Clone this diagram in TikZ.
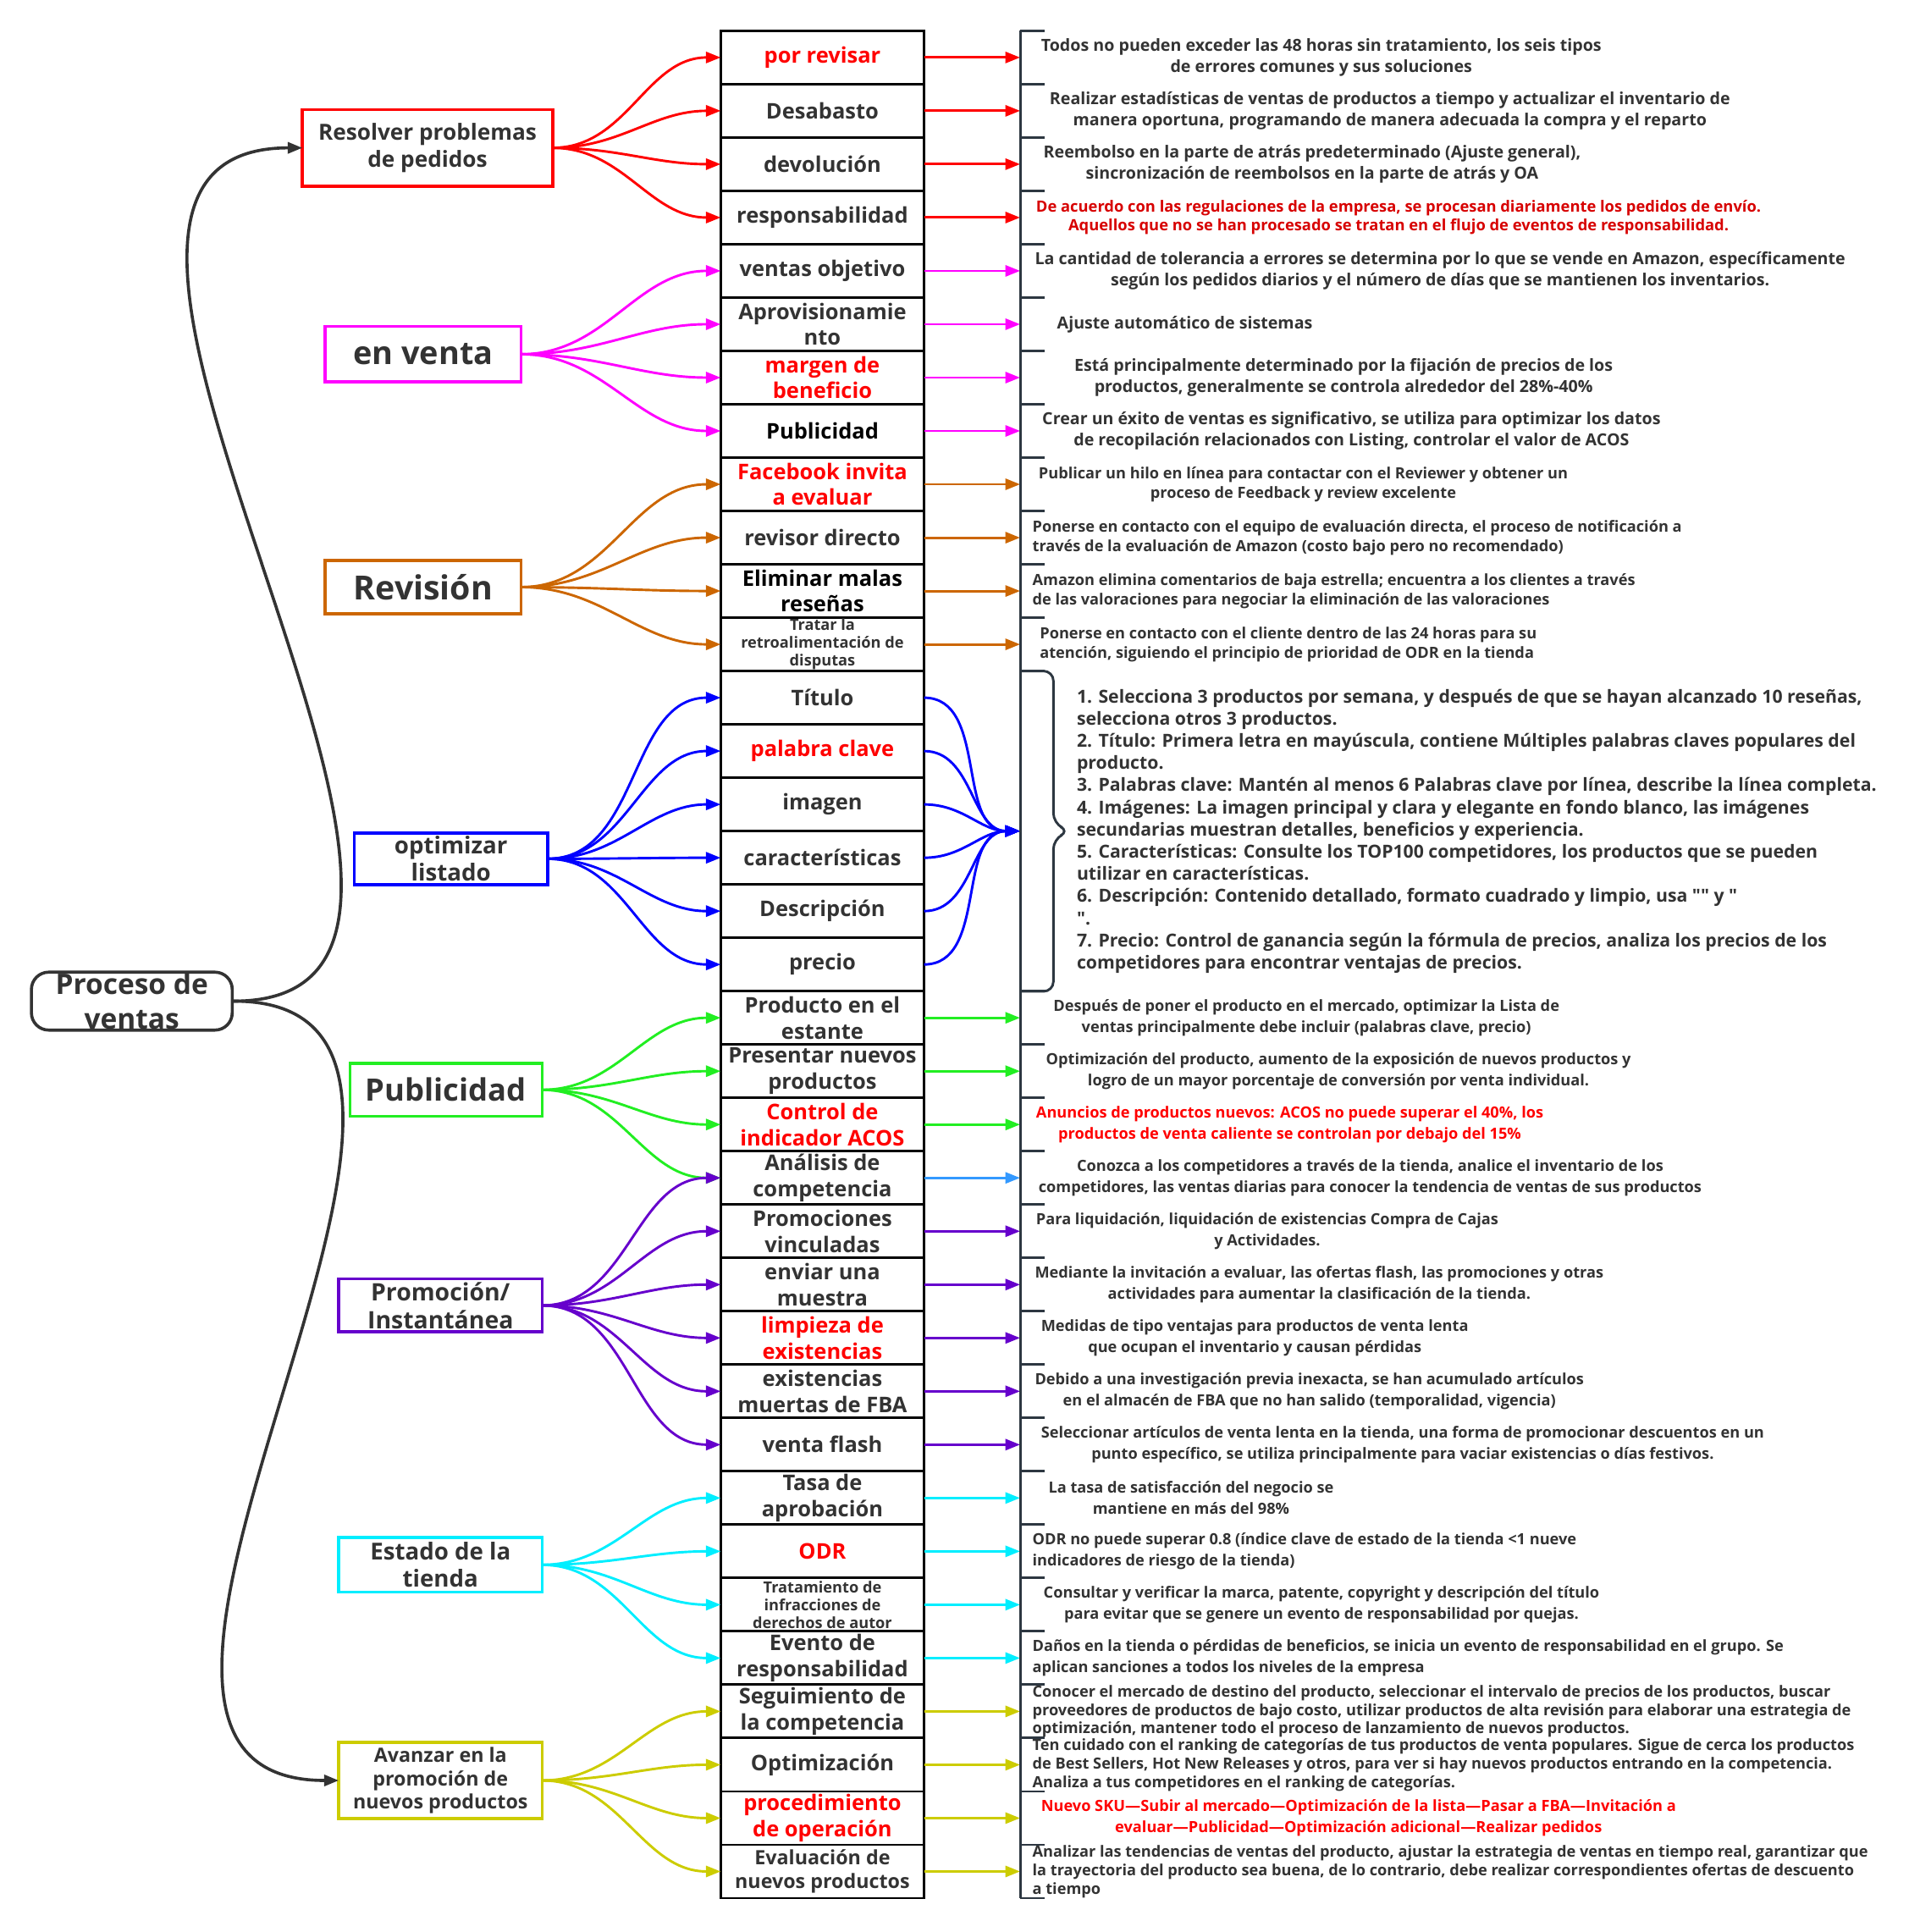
\documentclass[tikz,border=0pt]{standalone}
\usepackage{fontspec}
\setmainfont{Open Sans}[Ligatures=TeXOff]
\usetikzlibrary{positioning,arrows.meta}

\definecolor{txt}{RGB}{51,51,51}
\definecolor{brk}{RGB}{45,55,65}
\definecolor{cred}{RGB}{255,0,0}
\definecolor{cdred}{RGB}{215,0,0}
\definecolor{cmag}{RGB}{255,0,255}
\definecolor{corg}{RGB}{204,102,0}
\definecolor{cblu}{RGB}{0,0,255}
\definecolor{cgrn}{RGB}{34,238,34}
\definecolor{cpur}{RGB}{102,0,204}
\definecolor{ccya}{RGB}{0,238,255}
\definecolor{cyel}{RGB}{204,204,0}
\definecolor{clbl}{RGB}{51,153,255}

\tikzset{
    box/.style={draw=black, line width=2pt, minimum width=165pt, minimum height=43.3pt, inner sep=0pt, outer sep=0pt, align=center, text=txt, font=\bfseries\fontsize{17.5}{21}\selectfont},
    smalltxt/.style={font=\bfseries\fontsize{12.5}{14.5}\selectfont},
    hot/.style={text=cred},
    desc/.style={inner xsep=12pt, inner ysep=0pt, outer sep=0pt, align=center, text=txt, font=\bfseries\fontsize{12.5}{17}\selectfont},
    descl/.style={desc, align=left},
    big/.style={font=\bfseries\fontsize{13.5}{17}\selectfont},
    mid/.style={font=\bfseries\fontsize{12.5}{16}\selectfont},
    grp/.style={draw=#1, line width=2.5pt, inner sep=0pt, outer sep=0pt, align=center, text=txt},
    link/.style={line width=2pt, -{Triangle[length=12pt,width=9pt]}},
    fan/.style={link, draw=#1, out=0, in=180},
    brkline/.style={draw=brk, line width=2pt},
}

\begin{document}
\begin{tikzpicture}[x=1pt, y=-1pt]
    \useasboundingbox (0,0) rectangle (1558,1568);

    \node[draw=txt, line width=2.5pt, rounded corners=14pt, minimum width=163pt, minimum height=47pt] (root) at (107,812.5) {};
    \node[text=txt, align=center, font=\bfseries\fontsize{23}{28}\selectfont] (rootlbl) at (root) {Proceso de\\ventas};

    \node[grp=cred, minimum width=203pt, minimum height=62pt, font=\bfseries\fontsize{18}{22}\selectfont] (g1) at (347,120) {Resolver problemas\\de pedidos};
    \node[grp=cmag, minimum width=159pt, minimum height=45pt, font=\bfseries\fontsize{26}{30}\selectfont] (g2) at (343.5,287.5) {en venta};
    \node[grp=corg, minimum width=159pt, minimum height=43pt, font=\bfseries\fontsize{27}{30}\selectfont] (g3) at (343.5,476.5) {Revisión};
    \node[grp=cblu, minimum width=157pt, minimum height=42pt, font=\bfseries\fontsize{19}{22}\selectfont] (g4) at (366,697) {optimizar\\listado};
    \node[grp=cgrn, minimum width=156pt, minimum height=43pt, font=\bfseries\fontsize{25}{30}\selectfont] (g5) at (362,884.5) {Publicidad};
    \node[grp=cpur, minimum width=165pt, minimum height=43pt, font=\bfseries\fontsize{19.5}{22.5}\selectfont] (g6) at (357.5,1059.5) {Promoción/\\Instantánea};
    \node[grp=ccya, minimum width=165pt, minimum height=44pt, font=\bfseries\fontsize{19}{22}\selectfont] (g7) at (357.5,1270) {Estado de la\\tienda};
    \node[grp=cyel, minimum width=165pt, minimum height=62pt, font=\bfseries\fontsize{16}{19}\selectfont] (g8) at (357.5,1445) {Avanzar en la\\promoción de\\nuevos productos};

    \node[box, hot] (b1) at (667.5,46.65) {por revisar};
    \node[box, below=0pt of b1] (b2) {Desabasto};
    \node[box, below=0pt of b2] (b3) {devolución};
    \node[box, below=0pt of b3] (b4) {responsabilidad};
    \node[box, below=0pt of b4] (b5) {ventas objetivo};
    \node[box, below=0pt of b5] (b6) {Aprovisionamie\\nto};
    \node[box, hot, below=0pt of b6] (b7) {margen de\\beneficio};
    \node[box, text=black, below=0pt of b7] (b8) {Publicidad};
    \node[box, hot, below=0pt of b8] (b9) {Facebook invita\\a evaluar};
    \node[box, below=0pt of b9] (b10) {revisor directo};
    \node[box, text=black, below=0pt of b10] (b11) {Eliminar malas\\reseñas};
    \node[box, smalltxt, below=0pt of b11] (b12) {Tratar la\\retroalimentación de\\disputas};
    \node[box, below=0pt of b12] (b13) {Título};
    \node[box, hot, below=0pt of b13] (b14) {palabra clave};
    \node[box, below=0pt of b14] (b15) {imagen};
    \node[box, below=0pt of b15] (b16) {características};
    \node[box, below=0pt of b16] (b17) {Descripción};
    \node[box, below=0pt of b17] (b18) {precio};
    \node[box, below=0pt of b18] (b19) {Producto en el\\estante};
    \node[box, below=0pt of b19] (b20) {Presentar nuevos\\productos};
    \node[box, hot, below=0pt of b20] (b21) {Control de\\indicador ACOS};
    \node[box, below=0pt of b21] (b22) {Análisis de\\competencia};
    \node[box, below=0pt of b22] (b23) {Promociones\\vinculadas};
    \node[box, below=0pt of b23] (b24) {enviar una\\muestra};
    \node[box, hot, below=0pt of b24] (b25) {limpieza de\\existencias};
    \node[box, below=0pt of b25] (b26) {existencias\\muertas de FBA};
    \node[box, below=0pt of b26] (b27) {venta flash};
    \node[box, below=0pt of b27] (b28) {Tasa de\\aprobación};
    \node[box, hot, below=0pt of b28] (b29) {ODR};
    \node[box, smalltxt, below=0pt of b29] (b30) {Tratamiento de\\infracciones de\\derechos de autor};
    \node[box, below=0pt of b30] (b31) {Evento de\\responsabilidad};
    \node[box, below=0pt of b31] (b32) {Seguimiento de\\la competencia};
    \node[box, below=0pt of b32] (b33) {Optimización};
    \node[box, hot, below=0pt of b33] (b34) {procedimiento\\de operación};
    \node[box, font=\bfseries\fontsize{16}{19}\selectfont, below=0pt of b34] (b35) {Evaluación de\\nuevos productos};

    \node[desc, big, inner xsep=17pt, right=78pt of b1] (t1) {Todos no pueden exceder las 48 horas sin tratamiento, los seis tipos\\de errores comunes y sus soluciones};
    \node[desc, big, inner xsep=24pt, right=78pt of b2] (t2) {Realizar estadísticas de ventas de productos a tiempo y actualizar el inventario de\\manera oportuna, programando de manera adecuada la compra y el reparto};
    \node[desc, big, inner xsep=19pt, right=78pt of b3] (t3) {Reembolso en la parte de atrás predeterminado (Ajuste general),\\sincronización de reembolsos en la parte de atrás y OA};
    \node[desc, text=cdred, inner xsep=13pt, font=\bfseries\fontsize{12.6}{15}\selectfont, right=78pt of b4] (t4) {De acuerdo con las regulaciones de la empresa, se procesan diariamente los pedidos de envío.\\Aquellos que no se han procesado se tratan en el flujo de eventos de responsabilidad.};
    \node[desc, big, inner xsep=12pt, right=78pt of b5] (t5) {La cantidad de tolerancia a errores se determina por lo que se vende en Amazon, específicamente\\según los pedidos diarios y el número de días que se mantienen los inventarios.};
    \node[desc, big, inner xsep=30pt, right=78pt of b6] (t6) {Ajuste automático de sistemas};
    \node[desc, big, inner xsep=44pt, right=78pt of b7] (t7) {Está principalmente determinado por la fijación de precios de los\\productos, generalmente se controla alrededor del 28\%-40\%};
    \node[desc, big, inner xsep=18pt, right=78pt of b8] (t8) {Crear un éxito de ventas es significativo, se utiliza para optimizar los datos\\de recopilación relacionados con Listing, controlar el valor de ACOS};
    \node[desc, mid, inner xsep=15pt, right=78pt of b9] (t9) {Publicar un hilo en línea para contactar con el Reviewer y obtener un\\proceso de Feedback y review excelente};
    \node[descl, mid, inner xsep=10pt, right=78pt of b10] (t10) {Ponerse en contacto con el equipo de evaluación directa, el proceso de notificación a\\través de la evaluación de Amazon (costo bajo pero no recomendado)};
    \node[descl, mid, inner xsep=10pt, right=78pt of b11] (t11) {Amazon elimina comentarios de baja estrella; encuentra a los clientes a través\\de las valoraciones para negociar la eliminación de las valoraciones};
    \node[descl, mid, inner xsep=16pt, right=78pt of b12] (t12) {Ponerse en contacto con el cliente dentro de las 24 horas para su\\atención, siguiendo el principio de prioridad de ODR en la tienda};
    \node[descl, inner xsep=46pt, font=\bfseries\fontsize{14.6}{18}\selectfont, right=78pt of b15.south east] (tb) {1. Selecciona 3 productos por semana, y después de que se hayan alcanzado 10 reseñas,\\selecciona otros 3 productos.\\2. Título: Primera letra en mayúscula, contiene Múltiples palabras claves populares del\\producto.\\3. Palabras clave: Mantén al menos 6 Palabras clave por línea, describe la línea completa.\\4. Imágenes: La imagen principal y clara y elegante en fondo blanco, las imágenes\\secundarias muestran detalles, beneficios y experiencia.\\5. Características: Consulte los TOP100 competidores, los productos que se pueden\\utilizar en características.\\6. Descripción: Contenido detallado, formato cuadrado y limpio, usa "" y "\\".\\7. Precio: Control de ganancia según la fórmula de precios, analiza los precios de los\\competidores para encontrar ventajas de precios.};
    \node[desc, inner xsep=27pt, right=78pt of b19] (t19) {Después de poner el producto en el mercado, optimizar la Lista de\\ventas principalmente debe incluir (palabras clave, precio)};
    \node[desc, inner xsep=21pt, right=78pt of b20] (t20) {Optimización del producto, aumento de la exposición de nuevos productos y\\logro de un mayor porcentaje de conversión por venta individual.};
    \node[desc, hot, inner xsep=13pt, right=78pt of b21] (t21) {Anuncios de productos nuevos: ACOS no puede superar el 40\%, los\\productos de venta caliente se controlan por debajo del 15\%};
    \node[desc, inner xsep=15pt, right=78pt of b22] (t22) {Conozca a los competidores a través de la tienda, analice el inventario de los\\competidores, las ventas diarias para conocer la tendencia de ventas de sus productos};
    \node[desc, inner xsep=13pt, right=78pt of b23] (t23) {Para liquidación, liquidación de existencias Compra de Cajas\\y Actividades.};
    \node[desc, inner xsep=12pt, right=78pt of b24] (t24) {Mediante la invitación a evaluar, las ofertas flash, las promociones y otras\\actividades para aumentar la clasificación de la tienda.};
    \node[desc, inner xsep=17pt, right=78pt of b25] (t25) {Medidas de tipo ventajas para productos de venta lenta\\que ocupan el inventario y causan pérdidas};
    \node[desc, inner xsep=12pt, right=78pt of b26] (t26) {Debido a una investigación previa inexacta, se han acumulado artículos\\en el almacén de FBA que no han salido (temporalidad, vigencia)};
    \node[desc, inner xsep=17pt, right=78pt of b27] (t27) {Seleccionar artículos de venta lenta en la tienda, una forma de promocionar descuentos en un\\punto específico, se utiliza principalmente para vaciar existencias o días festivos.};
    \node[desc, inner xsep=23pt, right=78pt of b28] (t28) {La tasa de satisfacción del negocio se\\mantiene en más del 98\%};
    \node[descl, inner xsep=10pt, right=78pt of b29] (t29) {ODR no puede superar 0.8 (índice clave de estado de la tienda <1 nueve\\indicadores de riesgo de la tienda)};
    \node[desc, inner xsep=19pt, right=78pt of b30] (t30) {Consultar y verificar la marca, patente, copyright y descripción del título\\para evitar que se genere un evento de responsabilidad por quejas.};
    \node[descl, inner xsep=10pt, right=78pt of b31] (t31) {Daños en la tienda o pérdidas de beneficios, se inicia un evento de responsabilidad en el grupo. Se\\aplican sanciones a todos los niveles de la empresa};
    \node[descl, inner xsep=10pt, font=\bfseries\fontsize{12.5}{15}\selectfont, right=78pt of b32] (t32) {Conocer el mercado de destino del producto, seleccionar el intervalo de precios de los productos, buscar\\proveedores de productos de bajo costo, utilizar productos de alta revisión para elaborar una estrategia de\\optimización, mantener todo el proceso de lanzamiento de nuevos productos.};
    \node[descl, inner xsep=10pt, font=\bfseries\fontsize{12.5}{15}\selectfont, right=78pt of b33] (t33) {Ten cuidado con el ranking de categorías de tus productos de venta populares. Sigue de cerca los productos\\de Best Sellers, Hot New Releases y otros, para ver si hay nuevos productos entrando en la competencia.\\Analiza a tus competidores en el ranking de categorías.};
    \node[desc, hot, inner xsep=17pt, right=78pt of b34] (t34) {Nuevo SKU—Subir al mercado—Optimización de la lista—Pasar a FBA—Invitación a\\evaluar—Publicidad—Optimización adicional—Realizar pedidos};
    \node[descl, inner xsep=10pt, font=\bfseries\fontsize{12.5}{15}\selectfont, right=78pt of b35] (t35) {Analizar las tendencias de ventas del producto, ajustar la estrategia de ventas en tiempo real, garantizar que\\la trayectoria del producto sea buena, de lo contrario, debe realizar correspondientes ofertas de descuento\\a tiempo};

    \draw[link, line width=2.5pt, draw=txt] (root) .. controls +(362,0) and +(-383,0) .. (g1);
    \draw[link, line width=2.5pt, draw=txt] (root) .. controls +(352,0) and +(-354,0) .. (g8);

    \path (g1) edge[fan=cred] (b1) edge[fan=cred] (b2) edge[fan=cred] (b3) edge[fan=cred] (b4);
    \path (g2) edge[fan=cmag] (b5) edge[fan=cmag] (b6) edge[fan=cmag] (b7) edge[fan=cmag] (b8);
    \path (g3) edge[fan=corg] (b9) edge[fan=corg] (b10) edge[fan=corg] (b11) edge[fan=corg] (b12);
    \path (g4) edge[fan=cblu] (b13) edge[fan=cblu] (b14) edge[fan=cblu] (b15) edge[fan=cblu] (b16) edge[fan=cblu] (b17) edge[fan=cblu] (b18);
    \path (g5) edge[fan=cgrn] (b19) edge[fan=cgrn] (b20) edge[fan=cgrn] (b21) edge[fan=cgrn] (b22);
    \path (g6) edge[fan=cpur] (b22) edge[fan=cpur] (b23) edge[fan=cpur] (b24) edge[fan=cpur] (b25) edge[fan=cpur] (b26) edge[fan=cpur] (b27);
    \path (g7) edge[fan=ccya] (b28) edge[fan=ccya] (b29) edge[fan=ccya] (b30) edge[fan=ccya] (b31);
    \path (g8) edge[fan=cyel] (b32) edge[fan=cyel] (b33) edge[fan=cyel] (b34) edge[fan=cyel] (b35);

    \path (b1) edge[link, draw=cred] (t1) (b2) edge[link, draw=cred] (t2) (b3) edge[link, draw=cred] (t3) (b4) edge[link, draw=cred] (t4);
    \path (b5) edge[link, draw=cmag] (t5) (b6) edge[link, draw=cmag] (t6) (b7) edge[link, draw=cmag] (t7) (b8) edge[link, draw=cmag] (t8);
    \path (b9) edge[link, draw=corg] (t9) (b10) edge[link, draw=corg] (t10) (b11) edge[link, draw=corg] (t11) (b12) edge[link, draw=corg] (t12);
    \path (b13) edge[fan=cblu] (tb) (b14) edge[fan=cblu] (tb) (b15) edge[fan=cblu] (tb) (b16) edge[fan=cblu] (tb) (b17) edge[fan=cblu] (tb) (b18) edge[fan=cblu] (tb);
    \path (b19) edge[link, draw=cgrn] (t19) (b20) edge[link, draw=cgrn] (t20) (b21) edge[link, draw=cgrn] (t21) (b22) edge[link, draw=clbl] (t22);
    \path (b23) edge[link, draw=cpur] (t23) (b24) edge[link, draw=cpur] (t24) (b25) edge[link, draw=cpur] (t25) (b26) edge[link, draw=cpur] (t26) (b27) edge[link, draw=cpur] (t27);
    \path (b28) edge[link, draw=ccya] (t28) (b29) edge[link, draw=ccya] (t29) (b30) edge[link, draw=ccya] (t30) (b31) edge[link, draw=ccya] (t31);
    \path (b32) edge[link, draw=cyel] (t32) (b33) edge[link, draw=cyel] (t33) (b34) edge[link, draw=cyel] (t34) (b35) edge[link, draw=cyel] (t35);

    \draw[brkline] (b1.north -| tb.west) -- (b35.south -| tb.west);
    \draw[brkline] (b1.north -| tb.west) -- ++(20,0);
    \foreach \k in {1,...,12,18,19,...,35}
        \draw[brkline] (b\k.south -| tb.west) -- ++(20,0);
    \draw[brkline, rounded corners=8pt] (b12.south -| tb.west) -- ++(27,0) -- ++(0,123.5) -- ++(13,6.5) -- ++(-13,6.5) -- ++(0,123.5) -- ++(-27,0);
\end{tikzpicture}
\end{document}
